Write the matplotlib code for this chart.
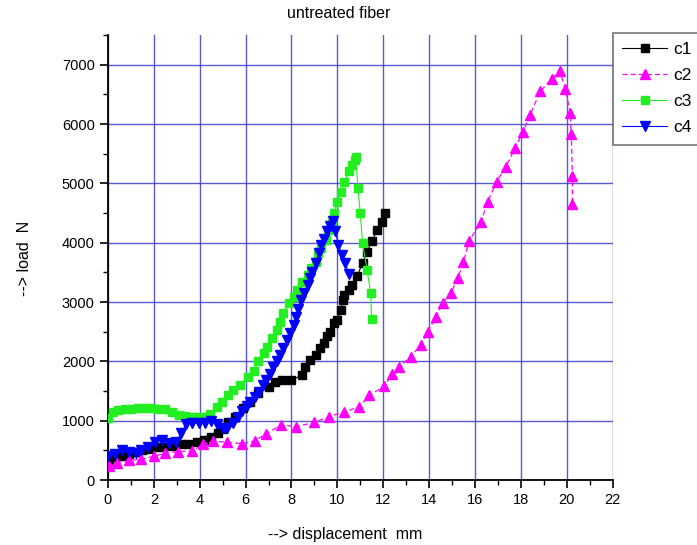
import matplotlib
matplotlib.use("Agg")
import matplotlib.pyplot as plt
from matplotlib.ticker import MultipleLocator

plt.rcParams['font.family'] = ['Liberation Sans', 'DejaVu Sans']

# ---- data ----
c1_x = [0.05, 0.3, 0.6, 0.9, 1.2, 1.5, 1.8, 2.1, 2.4, 2.8, 3.2, 3.5, 3.9, 4.2, 4.5,
        4.8, 5.0, 5.25, 5.55, 5.9, 6.2, 6.55, 7.0, 7.3, 7.6, 8.0, 8.45, 8.6, 8.8, 9.05,
        9.25, 9.4, 9.55, 9.7, 9.85, 10.0, 10.15, 10.25, 10.3, 10.5, 10.65, 10.85, 11.1,
        11.3, 11.5, 11.75, 11.95, 12.1]
c1_y = [320, 380, 400, 430, 480, 510, 530, 550, 560, 580, 600, 610, 640, 680, 720,
        800, 860, 980, 1070, 1210, 1320, 1460, 1570, 1660, 1690, 1680, 1770, 1910, 2020, 2110,
        2220, 2310, 2420, 2500, 2640, 2700, 2870, 3030, 3120, 3200, 3290, 3430, 3650,
        3850, 4020, 4220, 4350, 4500]

c2_x = [0.05, 0.4, 0.9, 1.45, 2.0, 2.5, 3.05, 3.65, 4.15, 4.6, 5.2, 5.85, 6.4, 6.9, 7.55,
        8.2, 9.0, 9.65, 10.3, 10.95, 11.4, 12.05, 12.4, 12.7, 13.2, 13.65, 13.95, 14.3, 14.6,
        14.95, 15.25, 15.5, 15.75, 16.25, 16.55, 16.95, 17.35, 17.75, 18.1, 18.4, 18.85,
        19.35, 19.7, 19.95, 20.15, 20.2, 20.25, 20.25]
c2_y = [230, 290, 330, 350, 400, 450, 480, 490, 600, 650, 640, 610, 660, 780, 930,
        900, 970, 1070, 1150, 1230, 1430, 1580, 1790, 1910, 2080, 2280, 2500, 2750, 2990,
        3150, 3400, 3670, 4030, 4340, 4680, 5030, 5280, 5590, 5870, 6150, 6550,
        6760, 6890, 6590, 6190, 5830, 5130, 4660]

c3_x = [0.0, 0.2, 0.45, 0.75, 1.0, 1.3, 1.6, 1.9, 2.2, 2.5, 2.8, 3.1, 3.35, 3.6, 3.95,
        4.2, 4.45, 4.75, 4.95, 5.25, 5.45, 5.75, 6.1, 6.35, 6.55, 6.8, 6.95, 7.15, 7.35, 7.5,
        7.65, 7.9, 8.1, 8.25, 8.45, 8.7, 8.85, 9.05, 9.15, 9.3, 9.5, 9.6, 9.75, 9.85, 10.0,
        10.15, 10.3, 10.5, 10.65, 10.75, 10.8, 10.9, 11.0, 11.1, 11.3, 11.45, 11.5]
c3_y = [1050, 1150, 1180, 1200, 1200, 1210, 1210, 1210, 1200, 1190, 1140, 1100, 1080, 1070, 1060,
        1060, 1120, 1230, 1320, 1430, 1520, 1600, 1740, 1830, 2000, 2140, 2250, 2390, 2530, 2670,
        2820, 2980, 3090, 3200, 3340, 3460, 3570, 3680, 3820, 3910, 4050, 4220, 4330, 4500, 4690,
        4860, 5030, 5200, 5310, 5400, 5450, 4920, 4500, 3990, 3540, 3150, 2710]

c4_x = [0.0, 0.3, 0.6, 0.9, 1.2, 1.45, 1.75, 2.05, 2.35, 2.65, 2.95, 3.2, 3.4, 3.65, 3.95,
        4.25, 4.5, 4.75, 5.0, 5.2, 5.45, 5.65, 5.85, 6.05, 6.2, 6.4, 6.6, 6.75, 6.9, 7.05,
        7.2, 7.35, 7.5, 7.65, 7.8, 7.95, 8.1, 8.2, 8.3, 8.4, 8.55, 8.7, 8.8, 8.9, 9.05,
        9.2, 9.3, 9.4, 9.55, 9.7, 9.82, 9.92, 10.05, 10.2, 10.35, 10.5]
c4_y = [400, 430, 500, 480, 450, 500, 560, 640, 670, 620, 640, 790, 950, 960, 960,
        960, 1000, 950, 880, 880, 960, 1060, 1170, 1240, 1320, 1400, 1490, 1600, 1680, 1790,
        1900, 2000, 2110, 2220, 2360, 2470, 2610, 2750, 2890, 3030, 3150, 3290, 3400, 3510, 3650,
        3820, 3960, 4070, 4190, 4280, 4370, 4190, 3960, 3790, 3650, 3480]

series_labels = ['c1', 'c2', 'c3', 'c4']
title_text = 'untreated fiber'
xlabel_text = '--> displacement  mm'
ylabel_text = '--> load  N'

# ---- figure ----
fig = plt.figure(figsize=(6.97, 5.45), dpi=100)
ax = fig.add_axes([108/697, 1 - 480/545, (612.5 - 108)/697, (480 - 35)/545])

grid_color = '#3c3cd2'
ax.set_xlim(0, 22)
ax.set_ylim(0, 7500)
ax.xaxis.set_major_locator(MultipleLocator(2))
ax.xaxis.set_minor_locator(MultipleLocator(1))
ax.yaxis.set_major_locator(MultipleLocator(1000))
ax.yaxis.set_minor_locator(MultipleLocator(500))
ax.grid(True, which='major', color=grid_color, lw=1.0, alpha=0.85, zorder=0)
ax.set_axisbelow(True)

for s in ['top', 'right']:
    ax.spines[s].set_visible(False)
for s in ['left', 'bottom']:
    ax.spines[s].set_linewidth(1.3)
    ax.spines[s].set_color('black')

ax.tick_params(which='major', direction='out', length=6, width=1.2, labelsize=10.5)
ax.tick_params(which='minor', direction='out', length=3.5, width=1.0)

ax.plot(c1_x, c1_y, color='black', lw=0.8, marker='s', ms=5.3, label=series_labels[0], zorder=3)
ax.plot(c2_x, c2_y, color='#ff00ff', lw=0.9, ls=(0, (4, 2.5)), marker='^', ms=7.3,
        label=series_labels[1], zorder=3)
ax.plot(c3_x, c3_y, color='#22ee22', lw=0.8, marker='s', ms=5.3, label=series_labels[2], zorder=3)
ax.plot(c4_x, c4_y, color='#0000ff', lw=0.8, marker='v', ms=7.3, label=series_labels[3], zorder=3)

leg = ax.legend(loc='upper left', bbox_to_anchor=(1.0, 1.005, 0.2, 0), mode='expand',
                borderaxespad=0, frameon=True, fancybox=False, fontsize=12.5,
                handlelength=2.6, handletextpad=0.35, labelspacing=0.62, borderpad=0.55)
leg.get_frame().set_edgecolor('#555555')
leg.get_frame().set_linewidth(1.2)
leg.set_clip_on(False)

fig.text(339/697, 1 - 13/545, title_text, ha='center', va='center', fontsize=11.5)
fig.text(345/697, 1 - 534/545, xlabel_text, ha='center', va='center', fontsize=11.5)
fig.text(25/697, 1 - 258/545, ylabel_text, ha='center', va='center', rotation=90, fontsize=11.5)

fig.savefig('out.png', dpi=100)
